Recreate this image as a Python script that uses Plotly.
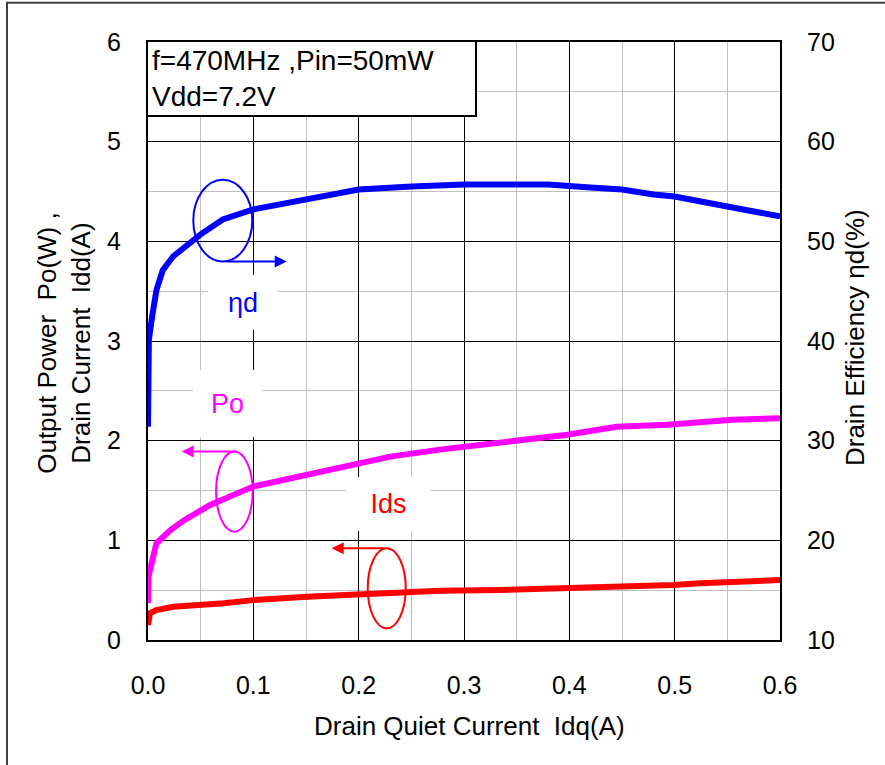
import plotly.graph_objects as go

FONT = "Liberation Sans, Arial, sans-serif"

# Drain efficiency (right axis, %)
eta_x = [0.0, 0.0008, 0.004, 0.008, 0.014, 0.024, 0.05, 0.071, 0.1, 0.15, 0.2, 0.25, 0.3, 0.35, 0.38, 0.42, 0.45, 0.48, 0.5, 0.55, 0.6]
eta_y = [31.4, 40.1, 42.5, 45.1, 47.1, 48.5, 50.7, 52.2, 53.2, 54.2, 55.2, 55.5, 55.7, 55.7, 55.7, 55.4, 55.2, 54.7, 54.5, 53.5, 52.5]

# Output power Po (W)
po_x = [0.0, 0.0005, 0.008, 0.021, 0.034, 0.059, 0.1, 0.151, 0.182, 0.23, 0.277, 0.334, 0.398, 0.445, 0.493, 0.555, 0.6]
po_y = [0.37, 0.64, 0.97, 1.10, 1.20, 1.355, 1.54, 1.66, 1.74, 1.84, 1.91, 1.975, 2.06, 2.14, 2.16, 2.21, 2.226]

# Drain current Ids (A)
ids_x = [0.0, 0.002, 0.008, 0.024, 0.072, 0.1, 0.151, 0.214, 0.277, 0.334, 0.41, 0.429, 0.499, 0.524, 0.6]
ids_y = [0.15, 0.27, 0.30, 0.334, 0.368, 0.40, 0.435, 0.469, 0.495, 0.502, 0.519, 0.535, 0.552, 0.569, 0.602]

x_ticks = [0.0, 0.1, 0.2, 0.3, 0.4, 0.5, 0.6]
y_ticks = [0, 1, 2, 3, 4, 5, 6]
y2_ticks = [10, 20, 30, 40, 50, 60, 70]

fig = go.Figure()
fig.add_trace(go.Scatter(x=po_x, y=po_y, mode="lines", line=dict(color="#FF00FF", width=6), showlegend=False))
fig.add_trace(go.Scatter(x=ids_x, y=ids_y, mode="lines", line=dict(color="#FF0000", width=6), showlegend=False))
fig.add_trace(go.Scatter(x=eta_x, y=eta_y, mode="lines", line=dict(color="#0000FF", width=6), yaxis="y2", showlegend=False))

tickfont = dict(family=FONT, size=25, color="black")

fig.update_layout(
    width=885, height=765,
    margin=dict(l=148, r=105, t=42, b=125),
    paper_bgcolor="white", plot_bgcolor="white",
    font=dict(family=FONT, size=24, color="black"),
    xaxis=dict(range=[0, 0.6], tickvals=x_ticks, ticktext=[f"{v:.1f}" for v in x_ticks],
               showgrid=True, gridcolor="black", gridwidth=1,
               minor=dict(dtick=0.05, showgrid=True, gridcolor="#c0c0c0", gridwidth=1),
               showline=True, linecolor="black", linewidth=2, mirror=True,
               ticks="", ticklabelstandoff=22, tickfont=tickfont, zeroline=False),
    yaxis=dict(range=[0, 6], tickvals=y_ticks, showgrid=True, gridcolor="black", gridwidth=1,
               minor=dict(dtick=0.5, showgrid=True, gridcolor="#c0c0c0", gridwidth=1),
               showline=True, linecolor="black", linewidth=2, mirror=True,
               ticks="", ticklabelstandoff=20, tickfont=tickfont, zeroline=False),
    yaxis2=dict(range=[10, 70], tickvals=y2_ticks, overlaying="y", side="right",
                showgrid=False, showline=True, linecolor="black", linewidth=2,
                ticks="", ticklabelstandoff=20, tickfont=tickfont, zeroline=False),
)

# Outer frame
fig.add_shape(type="rect", xref="paper", yref="paper", x0=-0.2231, x1=1.6, y0=-0.6, y1=1.0658,
              line=dict(color="#404040", width=2), fillcolor="rgba(0,0,0,0)")

# Ellipses
fig.add_shape(type="circle", xref="x", yref="y", x0=0.043, x1=0.099, y0=3.798, y1=4.618,
              line=dict(color="#0000FF", width=2))
fig.add_shape(type="circle", xref="x", yref="y", x0=0.0646, x1=0.0994, y0=1.087, y1=1.891,
              line=dict(color="#FF00FF", width=2))
fig.add_shape(type="circle", xref="x", yref="y", x0=0.2086, x1=0.2447, y0=0.1175, y1=0.9207,
              line=dict(color="#FF0000", width=2))

# Arrows
for (x0, x1, y, c) in [(0.0731, 0.1317, 3.798, "#0000FF"), (0.0857, 0.032, 1.891, "#FF00FF"), (0.2266, 0.1744, 0.9207, "#FF0000")]:
    fig.add_annotation(x=x1, y=y, ax=x0, ay=y, xref="x", yref="y", axref="x", ayref="y",
                       text="", showarrow=True, arrowhead=2, arrowsize=1.2, arrowwidth=2, arrowcolor=c)

# Labels with white boxes
fig.add_annotation(x=0.0902, y=3.389, xref="x", yref="y", text="ηd", showarrow=False,
                   font=dict(family=FONT, size=27, color="#0000FF"), bgcolor="white",
                   width=70, height=55, borderpad=0, borderwidth=0)
fig.add_annotation(x=0.0755, y=2.375, xref="x", yref="y", text="Po", showarrow=False,
                   font=dict(family=FONT, size=27, color="#FF00FF"), bgcolor="white",
                   width=69, height=67, borderpad=0, borderwidth=0)
fig.add_annotation(x=0.2283, y=1.365, xref="x", yref="y", text="Ids", showarrow=False,
                   font=dict(family=FONT, size=27, color="#FF0000"), bgcolor="white",
                   width=85, height=54, borderpad=0, borderwidth=0)

# Info box
fig.add_annotation(x=-0.0032, y=1.0038, xref="paper", yref="paper", xanchor="left", yanchor="top",
                   text="f=470MHz ,Pin=50mW<br>Vdd=7.2V", showarrow=False, align="left",
                   font=dict(family=FONT, size=28, color="black"), bgcolor="white",
                   bordercolor="black", borderwidth=2, borderpad=4, width=319, height=65)

# Axis titles
fig.add_annotation(x=-0.1329, y=0.497, xref="paper", yref="paper", textangle=-90,
                   xanchor="center", yanchor="middle",
                   text="Output Power  Po(W) ,<br>Drain Current  Idd(A)", showarrow=False,
                   font=dict(family=FONT, size=26, color="black"))
fig.add_annotation(x=1.1187, y=0.505, xref="paper", yref="paper", textangle=-90,
                   xanchor="center", yanchor="middle",
                   text="Drain Efficiency ηd(%)", showarrow=False,
                   font=dict(family=FONT, size=26, color="black"))
fig.add_annotation(x=0.509, y=-0.1439, xref="paper", yref="paper",
                   xanchor="center", yanchor="middle",
                   text="Drain Quiet Current  Idq(A)", showarrow=False,
                   font=dict(family=FONT, size=26, color="black"))

fig.write_html("out.html")
